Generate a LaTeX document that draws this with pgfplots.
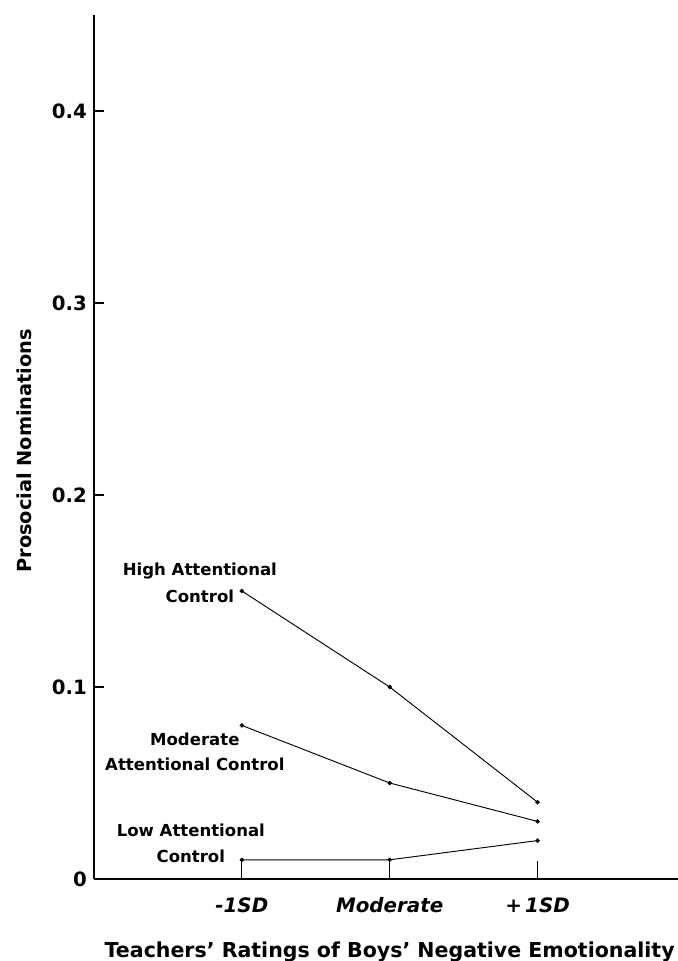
\documentclass[border=0pt]{standalone}
\usepackage{fontspec}
\setmainfont{DejaVu Sans}
\usepackage{pgfplots}
\pgfplotsset{compat=1.18}
\begin{document}
\begin{tikzpicture}
\path[use as bounding box] (-70.5pt,-61.5pt) rectangle (438pt,659.25pt);
\begin{axis}[
  at={(0,0)}, anchor=south west,
  scale only axis, width=438pt, height=648pt,
  xmin=-1, xmax=2.95, ymin=0, ymax=0.45,
  axis x line*=bottom, axis y line*=left,
  axis line style={-, line width=0.9pt, black},
  xtick={0,1,2}, xticklabels={-1SD, Moderate, +\,1SD},
  ytick={0,0.1,0.2,0.3,0.4}, yticklabels={0,0.1,0.2,0.3,0.4},
  tick align=inside,
  xtick style={line width=0.9pt, black, /pgfplots/major tick length=13.5pt},
  ytick style={line width=0.9pt, black, /pgfplots/major tick length=7.5pt},
  xticklabel style={font=\fontsize{14.9}{18}\selectfont\bfseries\itshape, anchor=north, inner sep=0pt, yshift=-13.5pt},
  yticklabel style={font=\fontsize{14.8}{18}\selectfont\bfseries, anchor=east, inner sep=0pt, xshift=-5.25pt},
  clip=false,
]
\addplot[black, line width=0.7pt, mark=*, mark size=1.3pt] coordinates {(0,0.15) (1,0.10) (2,0.04)};
\addplot[black, line width=0.7pt, mark=*, mark size=1.3pt] coordinates {(0,0.08) (1,0.05) (2,0.03)};
\addplot[black, line width=0.7pt, mark=*, mark size=1.3pt] coordinates {(0,0.01) (1,0.01) (2,0.02)};
\node[align=center, font=\fontsize{12.4}{20}\selectfont\bfseries] at (axis cs:-0.284,0.1542) {High Attentional\\Control};
\node[align=center, font=\fontsize{12.4}{19}\selectfont\bfseries] at (axis cs:-0.318,0.0661) {Moderate\\Attentional Control};
\node[align=center, font=\fontsize{12.4}{19.5}\selectfont\bfseries] at (axis cs:-0.345,0.01875) {Low Attentional\\Control};
\node[anchor=base, inner sep=0pt, font=\fontsize{15.4}{18}\selectfont\bfseries] at ([yshift=-58.5pt]axis cs:1,0) {Teachers' Ratings of Boys' Negative Emotionality};
\node[anchor=base west, inner sep=0pt, rotate=90, font=\fontsize{14.5}{18}\selectfont\bfseries] at ([xshift=-46.5pt]axis cs:-1,0.1594) {Prosocial Nominations};
\end{axis}
\end{tikzpicture}
\end{document}
